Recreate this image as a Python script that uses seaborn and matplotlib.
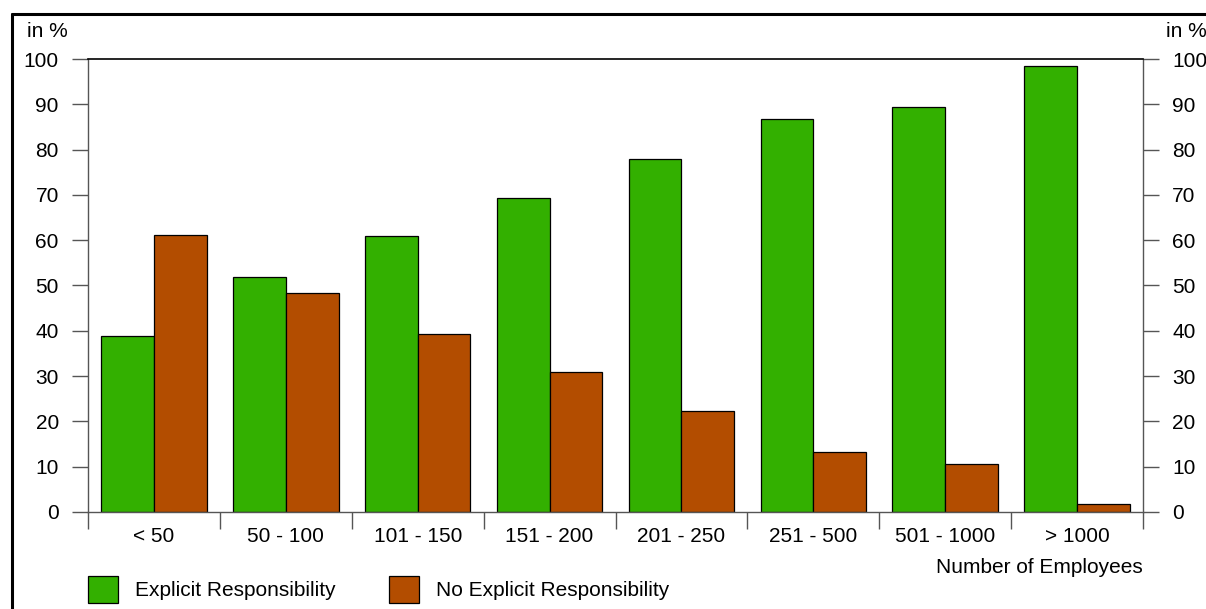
import matplotlib
matplotlib.use("Agg")
import matplotlib.pyplot as plt
from matplotlib.lines import Line2D
import seaborn as sns
import pandas as pd
import numpy as np

groups = ["< 50", "50 - 100", "101 - 150", "151 - 200", "201 - 250",
          "251 - 500", "501 - 1000", "> 1000"]
explicit = [38.9, 51.9, 60.9, 69.3, 77.9, 86.8, 89.4, 98.4]
no_explicit = [61.1, 48.3, 39.2, 30.9, 22.3, 13.2, 10.6, 1.8]
series = ["Explicit Responsibility", "No Explicit Responsibility"]
colors = ["#33b000", "#b34d00"]

df = pd.DataFrame({
    "group": groups * 2,
    "value": explicit + no_explicit,
    "series": [series[0]] * len(groups) + [series[1]] * len(groups),
})

sns.set_theme(style="white")
plt.rcParams["font.family"] = ["Liberation Sans", "DejaVu Sans"]
plt.rcParams["text.color"] = "black"
plt.rcParams["xtick.labelcolor"] = "black"
plt.rcParams["ytick.labelcolor"] = "black"
fs = 15

fig = plt.figure(figsize=(12.06, 6.09), dpi=100)
ax = fig.add_axes([0.073, 0.1593, 0.8748, 0.7438])

sns.barplot(data=df, x="group", y="value", hue="series", palette=colors,
            width=0.8, edgecolor="black", linewidth=0.9, saturation=1,
            ax=ax, legend=False)

ax.set_xlim(-0.5, len(groups) - 0.5)
ax.set_ylim(0, 100)
ax.set_yticks(np.arange(0, 101, 10))
ax.set_xlabel("")
ax.set_ylabel("")

for s in ["left", "right", "bottom"]:
    ax.spines[s].set_visible(True)
    ax.spines[s].set_color("#555555")
    ax.spines[s].set_linewidth(1)
ax.spines["top"].set_visible(True)
ax.spines["top"].set_color("black")
ax.spines["top"].set_linewidth(1.2)

ax.tick_params(axis="y", which="major", direction="out", length=11.5, width=1,
               color="#555555", left=True, right=True, labelleft=True,
               labelright=True, labelsize=fs, pad=9.5, labelcolor="black")
ax.tick_params(axis="x", which="major", length=0, labelsize=fs, pad=10.5,
               labelcolor="black")
ax.set_xticks(np.arange(-0.5, len(groups), 1.0), minor=True)
ax.tick_params(axis="x", which="minor", direction="out", length=12, width=1,
               color="#555555", bottom=True)

fig.text(0.0224, 0.949, "in %", fontsize=fs, va="center", ha="left", color="black")
fig.text(0.9665, 0.949, "in %", fontsize=fs, va="center", ha="left", color="black")
fig.text(0.9478, 0.068, "Number of Employees", fontsize=fs, ha="right",
         va="center", color="black")

handles = [plt.Rectangle((0, 0), 1, 1, facecolor=c, edgecolor="black", linewidth=0.9)
           for c in colors]
fig.legend(handles, series, loc="lower left", bbox_to_anchor=(0.073, 0.0099),
           ncol=2, frameon=False, fontsize=fs, handlelength=1.44, handleheight=1.6,
           handletextpad=0.82, columnspacing=2.55, borderpad=0, borderaxespad=0,
           labelcolor="black")

fig.add_artist(Line2D([0.0099, 1.0], [0.977, 0.977], color="black", linewidth=2.2,
                      transform=fig.transFigure))
fig.add_artist(Line2D([0.0099, 0.0099], [0.0, 0.977], color="black", linewidth=2.2,
                      transform=fig.transFigure))

fig.savefig("out.png", dpi=100)
